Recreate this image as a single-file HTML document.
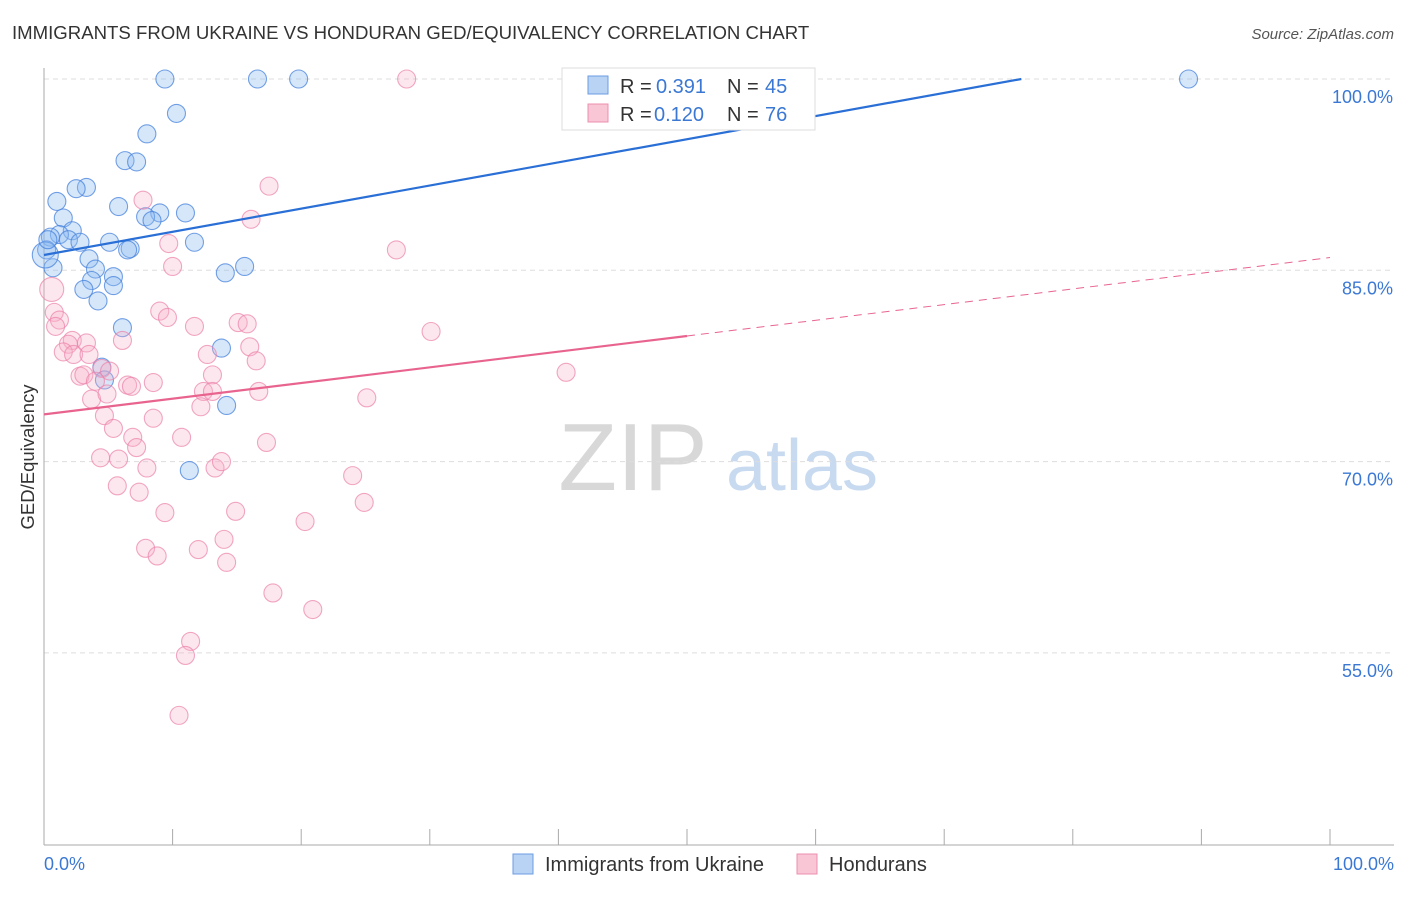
<!DOCTYPE html>
<html><head><meta charset="utf-8"><style>
body{margin:0;background:#fff;font-family:"Liberation Sans",sans-serif;}
svg text{font-family:"Liberation Sans",sans-serif;}
</style></head><body>
<svg id="chart" width="1406" height="892" xmlns="http://www.w3.org/2000/svg">
<text x="12" y="39" font-size="18.6" fill="#333">IMMIGRANTS FROM UKRAINE VS HONDURAN GED/EQUIVALENCY CORRELATION CHART</text>
<text x="1394" y="39" font-size="15" fill="#555" font-style="italic" text-anchor="end">Source: ZipAtlas.com</text>
<text transform="translate(34,457) rotate(-90)" font-size="18.5" fill="#333" text-anchor="middle">GED/Equivalency</text>
<g>
<text x="633" y="490" font-size="96" fill="#d8d8d8" text-anchor="middle" font-family="Liberation Serif">ZIP</text>
<text x="802" y="490" font-size="72" fill="#c8daf0" text-anchor="middle">atlas</text>
</g>
<g id="grid"></g><g id="axes"></g><g id="pts"></g><g id="lines"></g>
<g>
<rect x="562" y="68" width="253" height="62" fill="#fff" stroke="#ddd"/>
<rect x="588" y="76" width="20" height="18" fill="#b9d3f5" stroke="#6a9be0"/>
<rect x="588" y="104" width="20" height="18" fill="#f9c6d6" stroke="#ec8faf"/>
<text x="620" y="93" font-size="20" fill="#333">R =</text>
<text x="656" y="93" font-size="20" fill="#3b78d4">0.391</text>
<text x="727" y="93" font-size="20" fill="#333">N =</text>
<text x="765" y="93" font-size="20" fill="#3b78d4">45</text>
<text x="620" y="121" font-size="20" fill="#333">R =</text>
<text x="654" y="121" font-size="20" fill="#3b78d4">0.120</text>
<text x="727" y="121" font-size="20" fill="#333">N =</text>
<text x="765" y="121" font-size="20" fill="#3b78d4">76</text>
</g>
<g>
<rect x="513" y="854" width="20" height="20" fill="#b9d3f5" stroke="#6a9be0"/>
<text x="545" y="871" font-size="20" fill="#333">Immigrants from Ukraine</text>
<rect x="797" y="854" width="20" height="20" fill="#f9c6d6" stroke="#ec8faf"/>
<text x="829" y="871" font-size="20" fill="#333">Hondurans</text>
</g>
</svg>
<script>
const yTicks=[100,85,70,55];
const yTickLabels=["100.0%","85.0%","70.0%","55.0%"];
const xEndLabels=["0.0%","100.0%"];
const blueX=[9.4,16.6,19.8,89.0,10.3,8.0,6.3,7.2,3.3,2.5,1.0,5.8,11.0,9.0,7.9,8.4,1.5,2.2,1.2,0.5,1.9,2.8,5.1,11.7,6.7,6.5,0.2,3.5,4.0,0.7,14.1,15.6,5.4,3.7,5.4,3.1,4.2,6.1,13.8,4.5,4.7,14.2,11.3,0.1,0.3];
const blueY=[100,100,100,100,97.3,95.7,93.6,93.5,91.5,91.4,90.4,90.0,89.5,89.5,89.2,88.9,89.1,88.1,87.8,87.6,87.4,87.2,87.2,87.2,86.7,86.6,86.6,85.9,85.1,85.2,84.8,85.3,84.5,84.2,83.8,83.5,82.6,80.5,78.9,77.4,76.4,74.4,69.3,86.2,87.4];
const pinkX=[28.2,17.5,7.7,16.1,9.7,27.4,10.0,0.6,9.0,9.6,0.8,1.2,0.9,11.7,15.1,15.8,30.1,6.1,2.2,3.3,1.9,1.5,2.3,3.5,12.7,16.0,16.5,4.5,5.1,2.8,3.1,13.1,40.6,4.0,8.5,6.5,6.8,12.4,13.1,16.7,3.7,4.9,25.1,12.2,4.7,8.5,5.4,10.7,6.9,17.3,7.2,4.4,5.8,8.0,13.3,13.8,24.0,5.7,7.4,24.9,9.4,14.9,20.3,14.0,7.9,12.0,8.8,14.2,17.8,20.9,11.4,11.0,10.5];
const pinkY=[100,91.6,90.5,89.0,87.1,86.6,85.3,83.5,81.8,81.3,81.7,81.1,80.6,80.6,80.9,80.8,80.2,79.5,79.5,79.3,79.2,78.6,78.4,78.4,78.4,79.0,77.9,77.3,77.1,76.7,76.8,76.8,77.0,76.3,76.2,76.0,75.9,75.5,75.5,75.5,74.9,75.3,75.0,74.3,73.6,73.4,72.6,71.9,71.9,71.5,71.1,70.3,70.2,69.5,69.5,70.0,68.9,68.1,67.6,66.8,66.0,66.1,65.3,63.9,63.2,63.1,62.6,62.1,59.7,58.4,55.9,54.8,50.1];
const blueLine=[[0,86.2],[76,100]];
const pinkLineSolid=[[0,73.7],[50,79.85]];
const pinkLineDash=[[50,79.85],[100,86.0]];
const NS="http://www.w3.org/2000/svg";
const X=v=>44+v*12.86, Y=v=>79+(100-v)*12.753;
function mk(parent,tag,attrs){const e=document.createElementNS(NS,tag);for(const k in attrs)e.setAttribute(k,attrs[k]);document.getElementById(parent).appendChild(e);return e;}
yTicks.forEach((t,i)=>{
 const g=mk('grid','line',{x1:44,x2:1394,y1:Y(t),y2:Y(t),stroke:'#ddd','stroke-dasharray':'5,4'});
 
 
 const l=mk('axes','text',{x:1393,y:Y(t)+24,'font-size':18,fill:'#3b78d4','text-anchor':'end'});
 l.textContent=yTickLabels[i];
 
 
});
const ya=mk('axes','line',{x1:44,x2:44,y1:68,y2:845,stroke:'#aaa'});


const xa=mk('axes','line',{x1:44,x2:1394,y1:845,y2:845,stroke:'#aaa'});


for(let i=0;i<=10;i++){const t=mk('axes','line',{x1:X(i*10),x2:X(i*10),y1:829,y2:845,stroke:'#aaa'});
 
 }
const xl0=mk('axes','text',{x:44,y:870,'font-size':18,fill:'#3b78d4'});xl0.textContent=xEndLabels[0];


const xl1=mk('axes','text',{x:1394,y:870,'font-size':18,fill:'#3b78d4','text-anchor':'end'});xl1.textContent=xEndLabels[1];


blueX.forEach((v,i)=>{const big=(i===43);const c=mk('pts','circle',{cx:X(v),cy:Y(blueY[i]),r:big?13:9,fill:'rgba(140,185,240,0.35)',stroke:'rgba(70,130,220,0.75)','stroke-width':1.1});
 
 });
pinkX.forEach((v,i)=>{const big=(i===7);const c=mk('pts','circle',{cx:X(v),cy:Y(pinkY[i]),r:big?12:9,fill:'rgba(248,175,200,0.3)',stroke:'rgba(235,130,170,0.7)','stroke-width':1.1});
 
 });
const bl=mk('lines','line',{x1:X(blueLine[0][0]),y1:Y(blueLine[0][1]),x2:X(blueLine[1][0]),y2:Y(blueLine[1][1]),stroke:'#2a6fd6','stroke-width':2.2});


const pl=mk('lines','line',{x1:X(pinkLineSolid[0][0]),y1:Y(pinkLineSolid[0][1]),x2:X(pinkLineSolid[1][0]),y2:Y(pinkLineSolid[1][1]),stroke:'#e8648f','stroke-width':2.2});


const pd=mk('lines','line',{x1:X(pinkLineDash[0][0]),y1:Y(pinkLineDash[0][1]),x2:X(pinkLineDash[1][0]),y2:Y(pinkLineDash[1][1]),stroke:'#e8648f','stroke-width':1,'stroke-dasharray':'8,6'});


</script>
</body></html>
